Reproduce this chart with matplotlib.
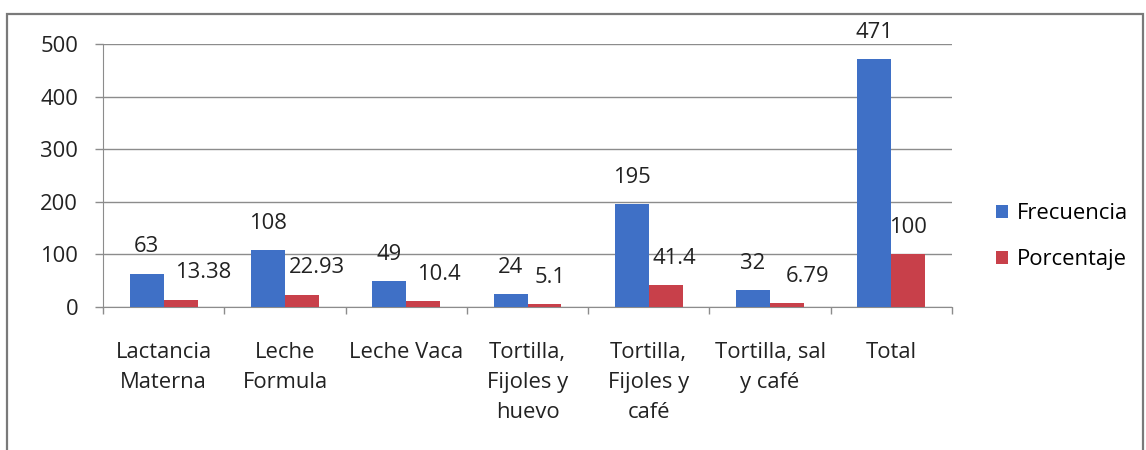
import numpy as np
import matplotlib.pyplot as plt
from matplotlib.patches import Rectangle

categories = ["Lactancia\nMaterna", "Leche\nFormula", "Leche Vaca",
              "Tortilla,\nFijoles y\nhuevo", "Tortilla,\nFijoles y\ncafé",
              "Tortilla, sal\ny café", "Total"]
frecuencia = [63, 108, 49, 24, 195, 32, 471]
porcentaje = [13.38, 22.93, 10.4, 5.1, 41.4, 6.79, 100]
porcentaje_txt = ["13.38", "22.93", "10.4", "5.1", "41.4", "6.79", "100"]

plt.rcParams['font.family'] = ['Open Sans', 'DejaVu Sans']

blue = '#3F70C6'
red = '#C8404A'
grid = '#8C8C8C'
fs = 15.8

fig = plt.figure(figsize=(11.46, 4.5), dpi=100)
ax = fig.add_axes([0.0899, 0.318, 0.7408, 0.584])

x = np.arange(len(categories))
w = 0.28
b1 = ax.bar(x - w / 2, frecuencia, w, color=blue, label='Frecuencia', zorder=3)
b2 = ax.bar(x + w / 2, porcentaje, w, color=red, label='Porcentaje', zorder=3)

# value labels above the bars, the red ones nudged to the right
red_dx = [22, 15, 16, 6, 9, 20, 0]
for i, r in enumerate(b1):
    ax.annotate(str(frecuencia[i]), (r.get_x() + r.get_width() / 2, r.get_height()),
                xytext=(0, 27), textcoords='offset pixels',
                ha='center', va='center', fontsize=fs, color='#222222')
for i, r in enumerate(b2):
    ax.annotate(porcentaje_txt[i], (r.get_x() + r.get_width() / 2, r.get_height()),
                xytext=(red_dx[i], 27), textcoords='offset pixels',
                ha='center', va='center', fontsize=fs, color='#222222')

ax.set_xlim(-0.5, len(categories) - 0.5)
ax.set_ylim(0, 500)
ax.set_yticks(range(0, 501, 100))
ax.yaxis.grid(True, color=grid, linewidth=1)
ax.set_axisbelow(True)

ax.set_xticks(x)
ax.set_xticklabels(categories, fontsize=fs, color='#222222', linespacing=1.58,
                   va='top')
ax.set_xticks(np.arange(-0.5, len(categories)), minor=True)
ax.tick_params(axis='x', which='major', length=0, pad=25)
ax.tick_params(axis='x', which='minor', length=5, color=grid, width=1)
ax.tick_params(axis='y', length=6, color=grid, width=1, labelsize=fs,
               labelcolor='#222222', pad=12)

for s in ['top', 'right']:
    ax.spines[s].set_visible(False)
ax.spines['left'].set_color(grid)
ax.spines['bottom'].set_color(grid)

leg = fig.legend(handles=[b1, b2], loc='center left', bbox_to_anchor=(0.852, 0.474),
                 frameon=False, fontsize=fs, handlelength=0.55, handleheight=0.55,
                 handletextpad=0.4, labelspacing=1.14)

# chart frame
fig.patches.append(Rectangle((0.0065, -0.1), 0.991, 1.07, transform=fig.transFigure,
                             fill=False, edgecolor='#7A7A7A', linewidth=1.6))

fig.savefig('out.png', dpi=100, facecolor='white')
